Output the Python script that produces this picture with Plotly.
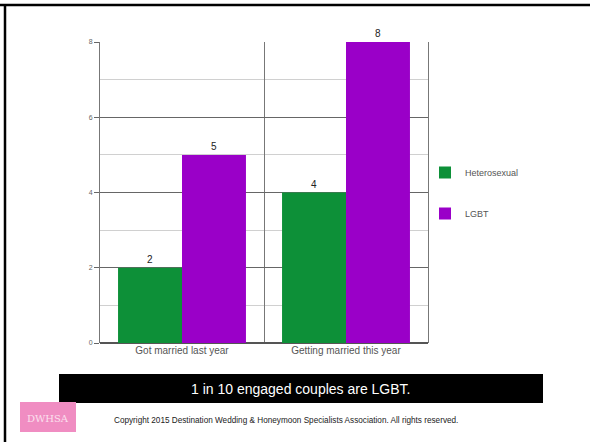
import plotly.graph_objects as go

categories = ["Got married last year", "Getting married this year"]
heterosexual = [2, 4]
lgbt = [5, 8]
series_names = ["Heterosexual", "LGBT"]
y_ticks = [0, 2, 4, 6, 8]
banner_text = "1 in 10 engaged couples are LGBT."
copyright_text = "Copyright 2015 Destination Wedding & Honeymoon Specialists Association. All rights reserved."
logo_text = "DWHSA"

GREEN = "#0d9038"
PURPLE = "#9a00c8"
FONT = "Liberation Sans, Arial, sans-serif"

fig = go.Figure()
fig.add_trace(go.Bar(x=categories, y=heterosexual, name=series_names[0], marker_color=GREEN,
                     marker_line_width=0, text=heterosexual, textposition="outside",
                     textfont=dict(size=10, color="#222"), cliponaxis=False, legendgroup="a"))
fig.add_trace(go.Bar(x=categories, y=lgbt, name=series_names[1], marker_color=PURPLE,
                     marker_line_width=0, text=lgbt, textposition="outside",
                     textfont=dict(size=10, color="#222"), cliponaxis=False, legendgroup="b"))

W, H = 590, 442
L, R, T, B = 100, 428, 42, 343

def fx(x):
    return (x - L) / (R - L)

def fy(y):
    return (B - y) / (B - T)

shapes = [
    # slide border (top, left)
    dict(type="line", xref="paper", yref="paper", x0=fx(0), x1=fx(W), y0=fy(5), y1=fy(5),
         line=dict(color="black", width=2.5)),
    dict(type="line", xref="paper", yref="paper", x0=fx(5), x1=fx(5), y0=fy(5), y1=fy(H),
         line=dict(color="black", width=2.5)),
    # banner
    dict(type="rect", xref="paper", yref="paper", x0=fx(59), x1=fx(543), y0=fy(403), y1=fy(374),
         fillcolor="black", line_width=0),
    # logo
    dict(type="rect", xref="paper", yref="paper", x0=fx(20), x1=fx(76), y0=fy(432), y1=fy(402),
         fillcolor="#f08dc2", line_width=0),
]

annotations = [
    dict(text=banner_text, xref="paper", yref="paper", x=fx(301), y=fy(388.5),
         showarrow=False, font=dict(family=FONT, size=14, color="white"), xanchor="center", yanchor="middle"),
    dict(text=copyright_text, xref="paper", yref="paper", x=fx(286), y=fy(420),
         showarrow=False, font=dict(family=FONT, size=8.2, color="#222"), xanchor="center", yanchor="middle"),
    dict(text=logo_text, xref="paper", yref="paper", x=fx(48), y=fy(418),
         showarrow=False, font=dict(family="DejaVu Serif, serif", size=10, color="#fbe0ee"),
         xanchor="center", yanchor="middle"),
]

fig.update_layout(
    width=W, height=H,
    margin=dict(l=L, r=W - R, t=T, b=H - B, pad=0),
    paper_bgcolor="white", plot_bgcolor="white",
    barmode="group", bargap=0.22, bargroupgap=0,
    font=dict(family=FONT, size=8, color="#444"),
    showlegend=True,
    legend=dict(x=fx(425), y=fy(158), xanchor="left", yanchor="top",
                font=dict(size=9, color="#555"), tracegroupgap=22, traceorder="grouped",
                itemwidth=30, bgcolor="rgba(0,0,0,0)"),
    xaxis=dict(type="category", tickson="boundaries", showgrid=True, gridcolor="#777", gridwidth=1,
               ticks="", showline=False, tickfont=dict(size=10, color="#555"), zeroline=False),
    yaxis=dict(range=[0, 8], tickvals=y_ticks, showgrid=True, gridcolor="#666", gridwidth=1,
               ticks="outside", ticklen=5, tickcolor="#666", tickfont=dict(size=7, color="#666"),
               showline=True, mirror=True, linecolor="#777", zeroline=True, zerolinecolor="#555",
               minor=dict(dtick=1, showgrid=True, gridcolor="#d0d0d0", ticks="")),
    shapes=shapes, annotations=annotations,
)

fig.write_html("out.html")
